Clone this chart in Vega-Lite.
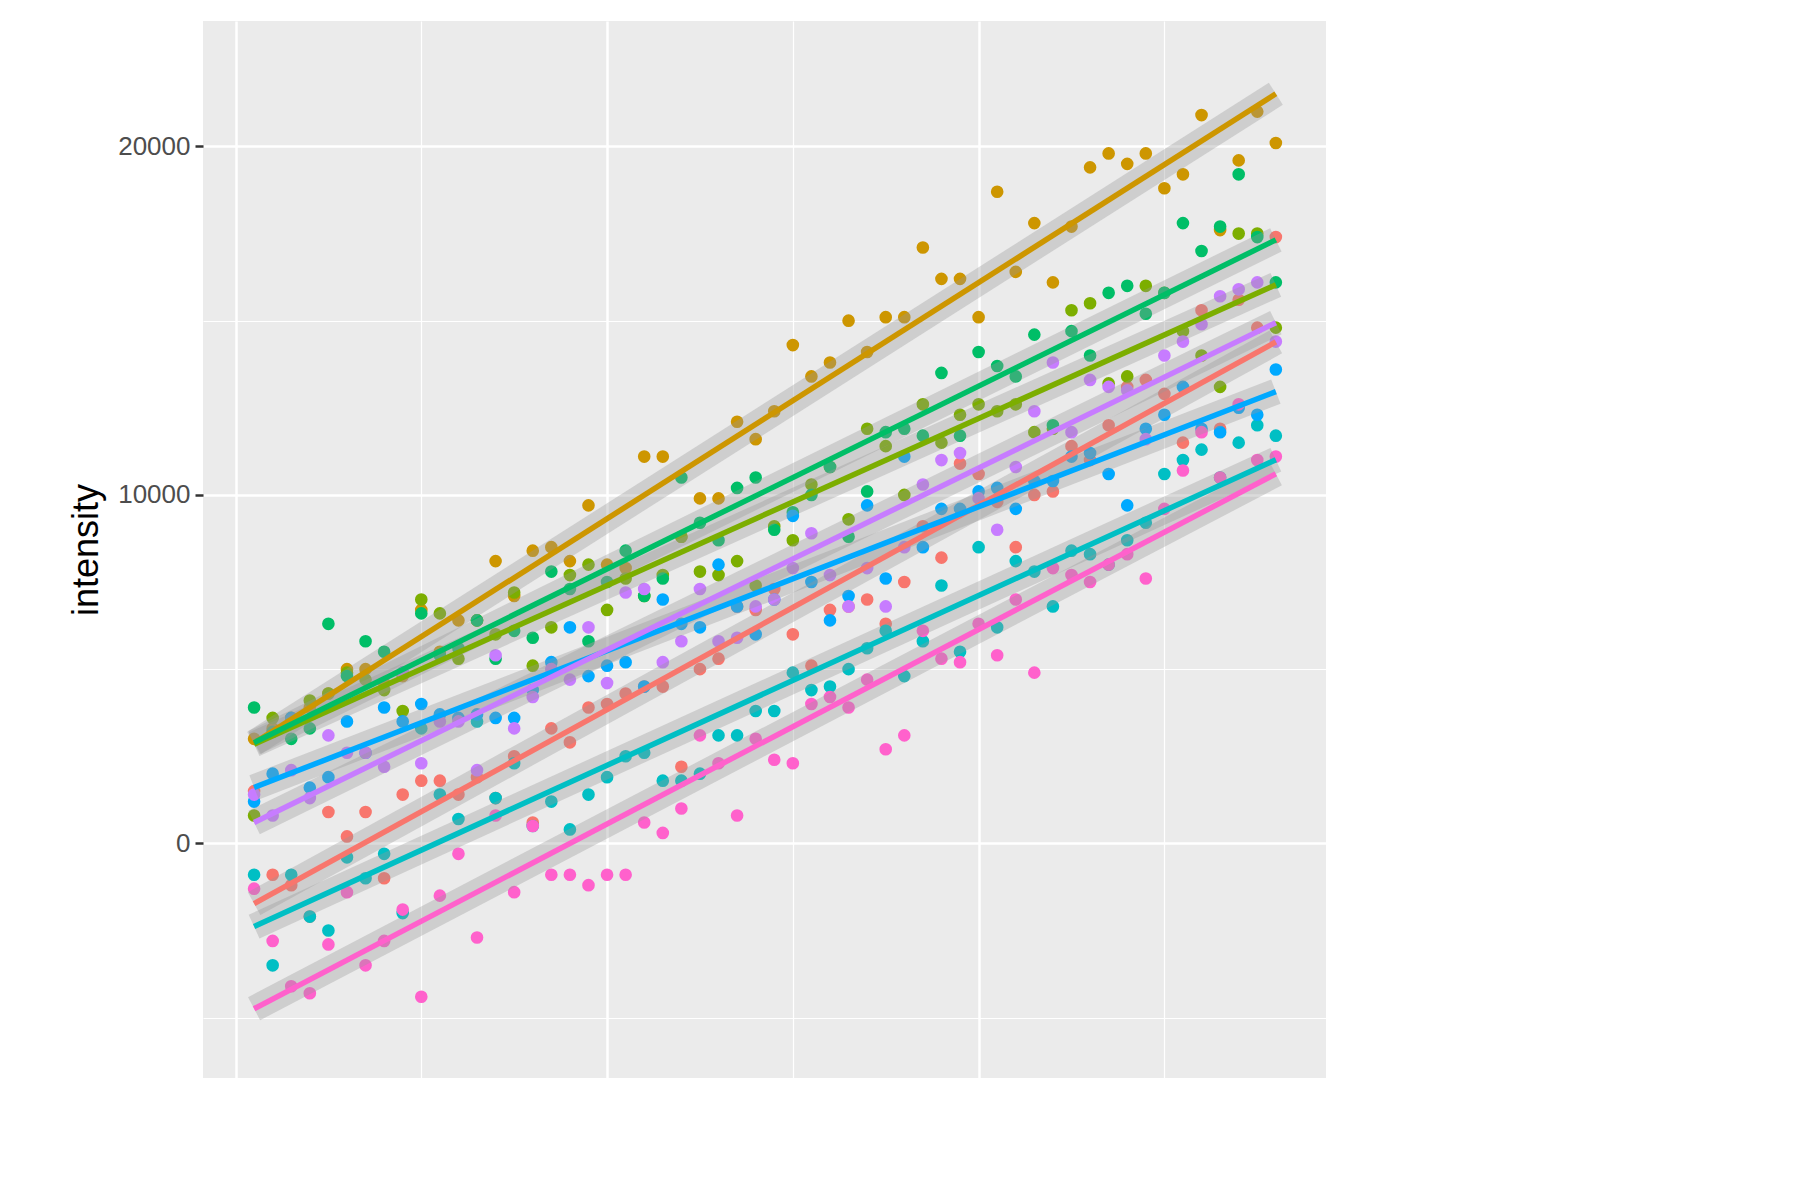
{"$schema":"https://vega.github.io/schema/vega-lite/v6.json","width":1123,"height":1057,"autosize":"none","padding":{"left":203,"top":21,"right":0,"bottom":0},"background":"white","config":{"view":{"fill":"#EBEBEB","stroke":null},"font":"Liberation Sans"},
"data":{"values":[
{"t":1,"E":1500,"SM":3000,"SN":800,"M8":3900,"N8":-900,"SM8":1200,"SN8":1400,"T":-1300},
{"t":2,"E":-900,"SM":3300,"SN":3600,"M8":3200,"N8":-3500,"SM8":2000,"SN8":800,"T":-2800},
{"t":3,"E":-1200,"SM":3600,"SN":3500,"M8":3000,"N8":-900,"SM8":3600,"SN8":2100,"T":-4100},
{"t":4,"E":-2100,"SM":3900,"SN":4100,"M8":3300,"N8":-2100,"SM8":1600,"SN8":1300,"T":-4300},
{"t":5,"E":900,"SM":4300,"SN":4300,"M8":6300,"N8":-2500,"SM8":1900,"SN8":3100,"T":-2900},
{"t":6,"E":200,"SM":5000,"SN":4900,"M8":4800,"N8":-400,"SM8":3500,"SN8":2600,"T":-1400},
{"t":7,"E":900,"SM":5000,"SN":4700,"M8":5800,"N8":-1000,"SM8":2600,"SN8":2600,"T":-3500},
{"t":8,"E":-1000,"SM":4600,"SN":4400,"M8":5500,"N8":-300,"SM8":3900,"SN8":2200,"T":-2800},
{"t":9,"E":1400,"SM":4800,"SN":3800,"M8":4900,"N8":-2000,"SM8":3500,"SN8":4900,"T":-1900},
{"t":10,"E":1800,"SM":6700,"SN":7000,"M8":6600,"N8":3300,"SM8":4000,"SN8":2300,"T":-4400},
{"t":11,"E":1800,"SM":5500,"SN":6600,"M8":5400,"N8":1400,"SM8":3700,"SN8":3500,"T":-1500},
{"t":12,"E":1400,"SM":6400,"SN":5300,"M8":5600,"N8":700,"SM8":3600,"SN8":3500,"T":-300},
{"t":13,"E":1900,"SM":6400,"SN":6400,"M8":6400,"N8":3500,"SM8":3700,"SN8":2100,"T":-2700},
{"t":14,"E":1300,"SM":8100,"SN":6000,"M8":5300,"N8":1300,"SM8":3600,"SN8":5400,"T":800},
{"t":15,"E":2500,"SM":7100,"SN":7200,"M8":6100,"N8":2300,"SM8":3600,"SN8":3300,"T":-1400},
{"t":16,"E":600,"SM":8400,"SN":5100,"M8":5900,"N8":500,"SM8":4400,"SN8":4200,"T":500},
{"t":17,"E":3300,"SM":8500,"SN":6200,"M8":7800,"N8":1200,"SM8":5200,"SN8":5000,"T":-900},
{"t":18,"E":2900,"SM":8100,"SN":7700,"M8":7300,"N8":400,"SM8":6200,"SN8":4700,"T":-900},
{"t":19,"E":3900,"SM":9700,"SN":8000,"M8":5800,"N8":1400,"SM8":4800,"SN8":6200,"T":-1200},
{"t":20,"E":4000,"SM":8000,"SN":6700,"M8":7500,"N8":1900,"SM8":5100,"SN8":4600,"T":-900},
{"t":21,"E":4300,"SM":7900,"SN":7600,"M8":8400,"N8":2500,"SM8":5200,"SN8":7200,"T":-900},
{"t":22,"E":4500,"SM":11100,"SN":7100,"M8":7100,"N8":2600,"SM8":4500,"SN8":7300,"T":600},
{"t":23,"E":4500,"SM":11100,"SN":7700,"M8":7600,"N8":1800,"SM8":7000,"SN8":5200,"T":300},
{"t":24,"E":2200,"SM":8800,"SN":8800,"M8":10500,"N8":1800,"SM8":6300,"SN8":5800,"T":1000},
{"t":25,"E":5000,"SM":9900,"SN":7800,"M8":9200,"N8":2000,"SM8":6200,"SN8":7300,"T":3100},
{"t":26,"E":5300,"SM":9900,"SN":7700,"M8":8700,"N8":3100,"SM8":8000,"SN8":5800,"T":2300},
{"t":27,"E":6800,"SM":12100,"SN":8100,"M8":10200,"N8":3100,"SM8":6800,"SN8":5900,"T":800},
{"t":28,"E":6700,"SM":11600,"SN":7400,"M8":10500,"N8":3800,"SM8":6000,"SN8":6800,"T":3000},
{"t":29,"E":7300,"SM":12400,"SN":9100,"M8":9000,"N8":3800,"SM8":7000,"SN8":7000,"T":2400},
{"t":30,"E":6000,"SM":14300,"SN":8700,"M8":9500,"N8":4900,"SM8":9400,"SN8":7900,"T":2300},
{"t":31,"E":5100,"SM":13400,"SN":10300,"M8":10000,"N8":4400,"SM8":7500,"SN8":8900,"T":4000},
{"t":32,"E":6700,"SM":13800,"SN":10800,"M8":10800,"N8":4500,"SM8":6400,"SN8":7700,"T":4200},
{"t":33,"E":6800,"SM":15000,"SN":9300,"M8":8800,"N8":5000,"SM8":7100,"SN8":6800,"T":3900},
{"t":34,"E":7000,"SM":14100,"SN":11900,"M8":10100,"N8":5600,"SM8":9700,"SN8":7900,"T":4700},
{"t":35,"E":6300,"SM":15100,"SN":11400,"M8":11800,"N8":6100,"SM8":7600,"SN8":6800,"T":2700},
{"t":36,"E":7500,"SM":15100,"SN":10000,"M8":11900,"N8":4800,"SM8":11100,"SN8":8500,"T":3100},
{"t":37,"E":9100,"SM":17100,"SN":12600,"M8":11700,"N8":5800,"SM8":8500,"SN8":10300,"T":6100},
{"t":38,"E":8200,"SM":16200,"SN":11500,"M8":13500,"N8":7400,"SM8":9600,"SN8":11000,"T":5300},
{"t":39,"E":10900,"SM":16200,"SN":12300,"M8":11700,"N8":5500,"SM8":9600,"SN8":11200,"T":5200},
{"t":40,"E":10600,"SM":15100,"SN":12600,"M8":14100,"N8":8500,"SM8":10100,"SN8":9900,"T":6300},
{"t":41,"E":9800,"SM":18700,"SN":12400,"M8":13700,"N8":6200,"SM8":10200,"SN8":9000,"T":5400},
{"t":42,"E":8500,"SM":16400,"SN":12600,"M8":13400,"N8":8100,"SM8":9600,"SN8":10800,"T":7000},
{"t":43,"E":10000,"SM":17800,"SN":11800,"M8":14600,"N8":7800,"SM8":10400,"SN8":12400,"T":4900},
{"t":44,"E":10100,"SM":16100,"SN":11900,"M8":12000,"N8":6800,"SM8":10400,"SN8":13800,"T":7900},
{"t":45,"E":11400,"SM":17700,"SN":15300,"M8":14700,"N8":8400,"SM8":11100,"SN8":11800,"T":7700},
{"t":46,"E":11000,"SM":19400,"SN":15500,"M8":14000,"N8":8300,"SM8":11200,"SN8":13300,"T":7500},
{"t":47,"E":12000,"SM":19800,"SN":13200,"M8":15800,"N8":8000,"SM8":10600,"SN8":13100,"T":8000},
{"t":48,"E":13100,"SM":19500,"SN":13400,"M8":16000,"N8":8700,"SM8":9700,"SN8":13000,"T":8300},
{"t":49,"E":13300,"SM":19800,"SN":16000,"M8":15200,"N8":9200,"SM8":11900,"SN8":11600,"T":7600},
{"t":50,"E":12900,"SM":18800,"SN":15800,"M8":15800,"N8":10600,"SM8":12300,"SN8":14000,"T":9600},
{"t":51,"E":11500,"SM":19200,"SN":14700,"M8":17800,"N8":11000,"SM8":13100,"SN8":14400,"T":10700},
{"t":52,"E":15300,"SM":20900,"SN":14000,"M8":17000,"N8":11300,"SM8":11900,"SN8":14900,"T":11800},
{"t":53,"E":11900,"SM":17600,"SN":13100,"M8":17700,"N8":10500,"SM8":11800,"SN8":15700,"T":10500},
{"t":54,"E":15600,"SM":19600,"SN":17500,"M8":19200,"N8":11500,"SM8":12500,"SN8":15900,"T":12600},
{"t":55,"E":14800,"SM":21000,"SN":17500,"M8":17400,"N8":12000,"SM8":12300,"SN8":16100,"T":11000},
{"t":56,"E":17400,"SM":20100,"SN":14800,"M8":16100,"N8":11700,"SM8":13600,"SN8":14400,"T":11100}
]},
"transform":[{"fold":["E","SM","SN","M8","N8","SM8","SN8","T"],"as":["key","intensity"]},
{"calculate":"{'E':'EMPTY_527','SM':'S127_MIMIC','SN':'S127_NULL','M8':'S8_MIMIC','N8':'S8_NULL','SM8':'S8_S127_MIMIC','SN8':'S8_S127_NULL','T':'TIP2_3'}[datum.key]","as":"genotype"}],
"encoding":{
"x":{"field":"t","type":"quantitative","title":"Time (minutes)","scale":{"domain":[-1.75,58.7],"nice":false,"zero":false},
"axis":{"values":[0,10,20,30,40,50],"labelExpr":"datum.value % 20 === 0 ? datum.label : ''","gridColor":"white","gridWidth":{"condition":{"test":"datum.value % 20 === 0","value":2.5},"value":1.2},"tickOpacity":{"condition":{"test":"datum.value % 20 === 0","value":1},"value":0},"domain":false,"tickColor":"#333333","tickSize":8,"tickWidth":2.5,"labelFontSize":26,"labelColor":"#4D4D4D","titleFontSize":36,"titleFontWeight":"normal","titleColor":"black","labelPadding":5,"titlePadding":10}},
"y":{"field":"intensity","type":"quantitative","title":"intensity","scale":{"domain":[-6733,23600],"nice":false,"zero":false},
"axis":{"values":[-5000,0,5000,10000,15000,20000],"format":"d","labelExpr":"datum.value % 10000 === 0 ? datum.label : ''","gridColor":"white","gridWidth":{"condition":{"test":"datum.value % 10000 === 0","value":2.5},"value":1.2},"tickOpacity":{"condition":{"test":"datum.value % 10000 === 0","value":1},"value":0},"domain":false,"tickColor":"#333333","tickSize":8,"tickWidth":2.5,"labelFontSize":26,"labelColor":"#4D4D4D","titleFontSize":36,"titleFontWeight":"normal","titleColor":"black","labelPadding":5,"titlePadding":12}},
"color":{"field":"genotype","type":"nominal","scale":{"domain":["EMPTY_527","S127_MIMIC","S127_NULL","S8_MIMIC","S8_NULL","S8_S127_MIMIC","S8_S127_NULL","TIP2_3"],"range":["#F8766D","#CD9600","#7CAE00","#00BE67","#00BFC4","#00A9FF","#C77CFF","#FF61CC"]},
"legend":{"titleFontSize":36,"titleFontWeight":"normal","titleColor":"black","labelFontSize":30,"labelColor":"black","labelLimit":0,"symbolType":"circle","symbolSize":260,"symbolOpacity":1,"rowPadding":40,"titlePadding":30,"offset":70,"labelOffset":40,"padding":0,"fillColor":null}}},
"layer":[
{"mark":{"type":"point","filled":true,"size":160,"opacity":1}},
{"mark":{"type":"line","strokeWidth":26,"color":"#999999","opacity":0.35},"encoding":{"color":{"value":"#999999"},"x":{"field":"t","type":"quantitative"},"y":{"field":"intensity","type":"quantitative"},"detail":{"field":"genotype"}},"transform":[{"regression":"intensity","on":"t","groupby":["genotype"]}]},
{"mark":{"type":"line","strokeWidth":5.5},"transform":[{"regression":"intensity","on":"t","groupby":["genotype"]}]}
]}
